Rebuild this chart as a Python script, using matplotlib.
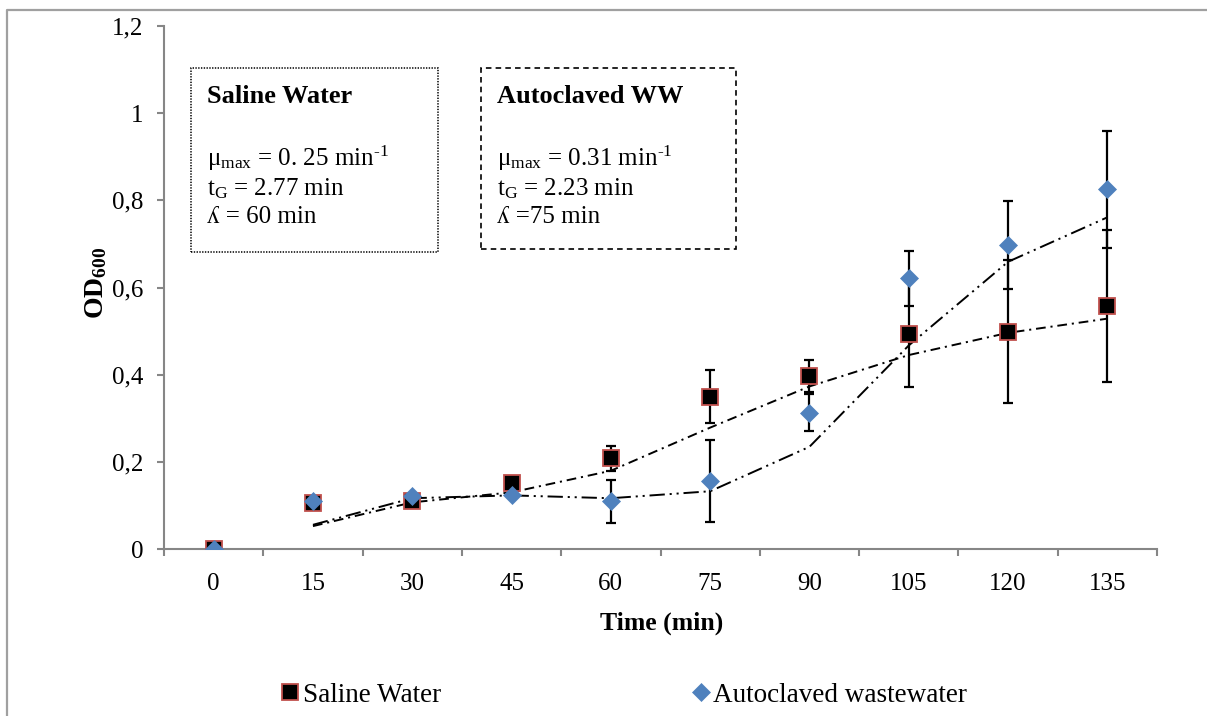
import numpy as np
import matplotlib
matplotlib.use("Agg")
import matplotlib.pyplot as plt
from matplotlib.lines import Line2D
from matplotlib.patches import Rectangle

plt.rcParams['font.family'] = ['Liberation Serif', 'DejaVu Serif']
plt.rcParams['mathtext.fontset'] = 'custom'
plt.rcParams['mathtext.rm'] = 'Liberation Serif'
plt.rcParams['mathtext.it'] = 'Liberation Serif:italic'
plt.rcParams['mathtext.bf'] = 'Liberation Serif:bold'
plt.rcParams['lines.scale_dashes'] = False

# data
time_labels = ['0', '15', '30', '45', '60', '75', '90', '105', '120', '135']
saline = [0.0, 0.105, 0.109, 0.151, 0.208, 0.349, 0.397, 0.493, 0.499, 0.558]
saline_err = [0, 0, 0, 0, 0.029, 0.061, 0.036, 0.121, 0.164, 0.175]
autoclaved = [0.0, 0.111, 0.122, 0.124, 0.109, 0.156, 0.313, 0.621, 0.697, 0.825]
autoclaved_err = [0, 0, 0, 0, 0.05, 0.094, 0.042, 0.063, 0.101, 0.134]
y_ticks = [0, 0.2, 0.4, 0.6, 0.8, 1.0, 1.2]
y_tick_labels = ['0', '0,2', '0,4', '0,6', '0,8', '1', '1,2']

W, H = 1207, 716


def fx(px):
    return px / W


def fy(py):
    return 1 - py / H


fig = plt.figure(figsize=(W / 100, H / 100), dpi=100)
ax = fig.add_axes([fx(164), fy(549), fx(1157) - fx(164), fy(26) - fy(549)])

x = np.arange(len(time_labels))
axis_grey = '#868686'
red_edge = '#C0504D'
blue = '#4F81BD'
fs = 18

# error bars under everything
ax.errorbar(x, saline, yerr=saline_err, fmt='none', ecolor='black',
            elinewidth=1.6, capsize=3.8, capthick=1.6, zorder=2)
ax.errorbar(x, autoclaved, yerr=autoclaved_err, fmt='none', ecolor='black',
            elinewidth=1.6, capsize=3.8, capthick=1.6, zorder=2)

# 2-period moving average trendlines (as in the original chart)
ma_sal = np.convolve(saline, [0.5, 0.5], mode='valid')
ma_auto = np.convolve(autoclaved, [0.5, 0.5], mode='valid')
ax.plot(x[1:], ma_sal, color='black', lw=1.4,
        linestyle=(0, (7, 3.5, 1.5, 3.5)), zorder=3)
ax.plot(x[1:], ma_auto, color='black', lw=1.4,
        linestyle=(0, (11, 3.5, 1.5, 3.5, 1.5, 3.5)), zorder=3)

ax.plot(x, saline, linestyle='none', marker='s', markersize=11.5,
        markerfacecolor='black', markeredgecolor=red_edge, markeredgewidth=1.3,
        zorder=4, label='Saline Water')
ax.plot(x, autoclaved, linestyle='none', marker='D', markersize=9.5,
        markerfacecolor=blue, markeredgecolor=blue, markeredgewidth=0.5,
        zorder=5, label='Autoclaved wastewater')

ax.set_xlim(-0.5, len(time_labels) - 0.5)
ax.set_ylim(0, 1.2)
ax.set_yticks(y_ticks)
ax.set_yticklabels(y_tick_labels)
ax.set_xticks(np.arange(len(time_labels) + 1) - 0.5)
ax.set_xticklabels([])
ax.set_xticks(x, minor=True)
ax.set_xticklabels(time_labels, minor=True)

for s in ['top', 'right']:
    ax.spines[s].set_visible(False)
for s in ['left', 'bottom']:
    ax.spines[s].set_color(axis_grey)
    ax.spines[s].set_linewidth(1.5)
ax.tick_params(axis='y', which='major', direction='out', length=5,
               width=1.5, color=axis_grey, labelsize=fs, pad=10)
ax.tick_params(axis='x', which='major', direction='out', length=5,
               width=1.5, color=axis_grey)
ax.tick_params(axis='x', which='minor', length=0, labelsize=fs, pad=17)

fig.text(fx(662), fy(623), 'Time (min)', ha='center', va='center',
         fontsize=18.5, fontweight='bold')
fig.text(fx(96), fy(283), r'$\mathbf{OD_{600}}$', ha='center', va='center',
         rotation=90, fontsize=20)

# annotation boxes
fig.add_artist(Rectangle((fx(191), fy(252)), fx(438) - fx(191), fy(68) - fy(252),
                         transform=fig.transFigure, fill=False, edgecolor='black',
                         linewidth=1.1, linestyle=(0, (1, 1))))
fig.add_artist(Rectangle((fx(481), fy(249)), fx(736) - fx(481), fy(68) - fy(249),
                         transform=fig.transFigure, fill=False, edgecolor='black',
                         linewidth=1.2, linestyle=(0, (4, 3))))

box_lines = [
    (207, ['Saline Water', 'μ$_{\\mathrm{max}}$ = 0. 25 min$^{\\text{-1}}$',
           't$_{\\mathrm{G}}$ = 2.77 min', 'ʎ = 60 min']),
    (497, ['Autoclaved WW', 'μ$_{\\mathrm{max}}$ = 0.31 min$^{\\text{-1}}$',
           't$_{\\mathrm{G}}$ = 2.23 min', 'ʎ =75 min']),
]
baselines = [103, 166, 195, 223]
for left, lines in box_lines:
    for i, (txt, base) in enumerate(zip(lines, baselines)):
        fig.text(fx(left), fy(base), txt, ha='left', va='baseline',
                 fontsize=19 if i == 0 else fs,
                 fontweight='bold' if i == 0 else 'normal')

# chart area frame (top and left visible)
fig.add_artist(Line2D([fx(7), fx(7), fx(1207)], [fy(716), fy(10), fy(10)],
                      transform=fig.transFigure, color='#A0A0A0', linewidth=1.6))

fig.legend(loc='center', bbox_to_anchor=(fx(625), fy(695)), ncol=2,
           frameon=False, fontsize=19.5, handlelength=0.55, handletextpad=0.2,
           columnspacing=9.3, borderpad=0)

fig.savefig('out.png', dpi=100)
